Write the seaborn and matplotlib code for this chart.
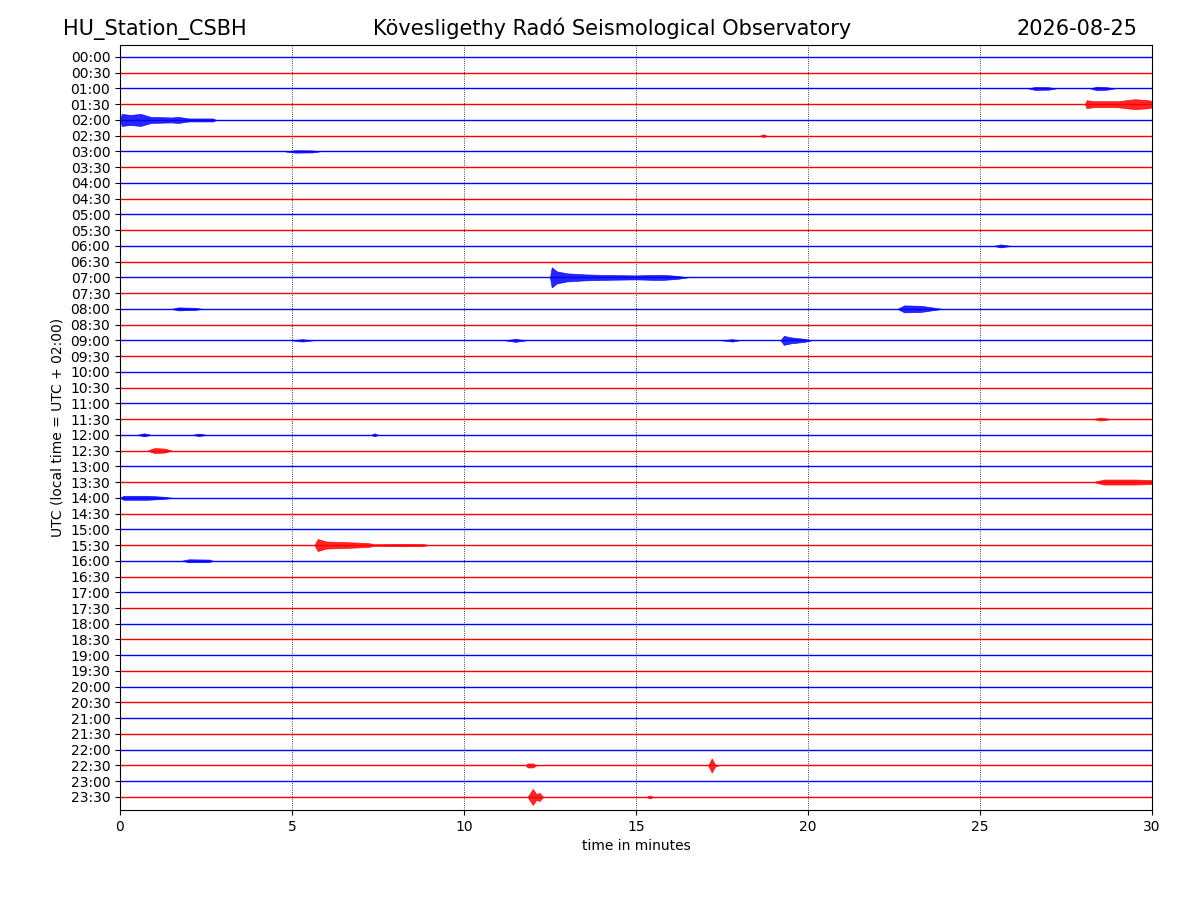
import matplotlib
matplotlib.use("Agg")
import matplotlib.pyplot as plt
import seaborn as sns
import numpy as np
import pandas as pd

station = "HU_Station_CSBH"
observatory = "Kövesligethy Radó Seismological Observatory"
date_str = "2026-08-25"

row_labels = [f"{h:02d}:{m:02d}" for h in range(24) for m in (0, 30)]
trace_colors = ["blue" if i % 2 == 0 else "red" for i in range(len(row_labels))]
x_ticks = [0, 5, 10, 15, 20, 25, 30]

# Event envelopes: (minute, half-amplitude in pixels)
events = {
    "01:00": [[(26.4, 0), (26.6, 1.5), (27.0, 1.2), (27.2, 0)],
              [(28.2, 0), (28.4, 1.8), (28.7, 1.2), (28.9, 0)]],
    "01:30": [[(28.05, 0), (28.1, 4), (28.3, 3), (29.0, 3), (29.5, 5), (29.9, 4), (30.0, 3)]],
    "02:00": [[(0.0, 0), (0.05, 6), (0.3, 5), (0.6, 6), (0.9, 3), (1.5, 2.5), (1.7, 3),
               (2.0, 1.5), (2.7, 1.5), (2.8, 0)]],
    "02:30": [[(18.6, 0), (18.7, 1.5), (18.8, 0)]],
    "03:00": [[(4.8, 0), (5.1, 1.2), (5.6, 1.0), (5.8, 0)]],
    "06:00": [[(25.4, 0), (25.6, 1.5), (25.9, 0)]],
    "07:00": [[(12.5, 0), (12.55, 10), (12.7, 6), (13.0, 4), (13.5, 3), (14.0, 2.5),
               (15.0, 2), (15.5, 2.5), (15.8, 2.5), (16.2, 1.5), (16.5, 0)]],
    "08:00": [[(1.5, 0), (1.7, 1.5), (2.2, 1.0), (2.4, 0)],
              [(22.6, 0), (22.8, 3.5), (23.3, 3), (23.6, 1.5), (23.9, 0)]],
    "09:00": [[(5.0, 0), (5.3, 1.2), (5.6, 0)],
              [(11.2, 0), (11.5, 1.5), (11.8, 0)],
              [(17.5, 0), (17.8, 1.2), (18.0, 0)],
              [(19.2, 0), (19.3, 4.5), (19.5, 3), (19.9, 1.5), (20.1, 0)]],
    "11:30": [[(28.3, 0), (28.5, 1.5), (28.8, 0)]],
    "12:00": [[(0.5, 0), (0.7, 1.5), (0.9, 0)],
              [(2.1, 0), (2.3, 1.2), (2.5, 0)],
              [(7.3, 0), (7.4, 1.5), (7.5, 0)]],
    "12:30": [[(0.8, 0), (1.0, 2.5), (1.3, 2), (1.5, 0)]],
    "13:30": [[(28.3, 0), (28.6, 2.5), (29.5, 2.5), (30.0, 2)]],
    "14:00": [[(0.0, 0), (0.1, 2), (0.8, 2), (1.3, 1), (1.5, 0)]],
    "15:30": [[(5.65, 0), (5.75, 6), (6.0, 3.5), (6.5, 3), (7.2, 2), (7.4, 0.8),
               (8.2, 1.2), (8.8, 1.0), (9.0, 0)]],
    "16:00": [[(1.8, 0), (2.0, 1.5), (2.6, 1.2), (2.7, 0)]],
    "22:30": [[(11.8, 0), (11.85, 2), (12.0, 2), (12.1, 0)],
              [(17.1, 0), (17.2, 7), (17.3, 1), (17.4, 0)]],
    "23:30": [[(11.85, 0), (12.0, 8), (12.1, 3), (12.2, 4), (12.3, 0)],
              [(15.3, 0), (15.4, 1.5), (15.5, 0)]],
}

ROW_PX = 15.74  # pixel height of one row

fig = plt.figure(figsize=(12, 9), dpi=100)
ax = fig.add_axes([0.1, 0.1, 0.86, 0.85])

base = pd.DataFrame({
    "t": [0.0, 30.0] * len(row_labels),
    "row": np.repeat(np.arange(len(row_labels)), 2),
    "label": np.repeat(row_labels, 2),
    "color": np.repeat(trace_colors, 2),
})
sns.lineplot(data=base, x="t", y="row", units="label", estimator=None, hue="color",
             palette={"blue": "blue", "red": "red"}, legend=False, lw=1.0, ax=ax)

for lab, envs in events.items():
    i = row_labels.index(lab)
    col = trace_colors[i]
    for env in envs:
        t = np.array([p[0] for p in env])
        a = np.array([p[1] for p in env]) / ROW_PX
        ax.fill_between(t, i - a, i + a, color=col, lw=0.5, alpha=0.85)

ax.set_xlim(0, 30)
ax.set_ylim(47.83, -0.76)
ax.set_yticks(range(len(row_labels)))
ax.set_yticklabels(row_labels)
ax.set_xticks(x_ticks)
ax.set_xticklabels([str(v) for v in x_ticks])
for v in x_ticks[1:-1]:
    ax.axvline(v, color="black", ls=":", lw=0.6, zorder=0)
ax.set_xlabel("time in minutes")
ax.set_ylabel("UTC (local time = UTC + 02:00)")

fig.text(0.0525, 0.961, station, fontsize=15, ha="left", va="baseline")
fig.text(0.51, 0.961, observatory, fontsize=15, ha="center", va="baseline")
fig.text(0.9475, 0.961, date_str, fontsize=15, ha="right", va="baseline")

fig.savefig("out.png", dpi=100)
